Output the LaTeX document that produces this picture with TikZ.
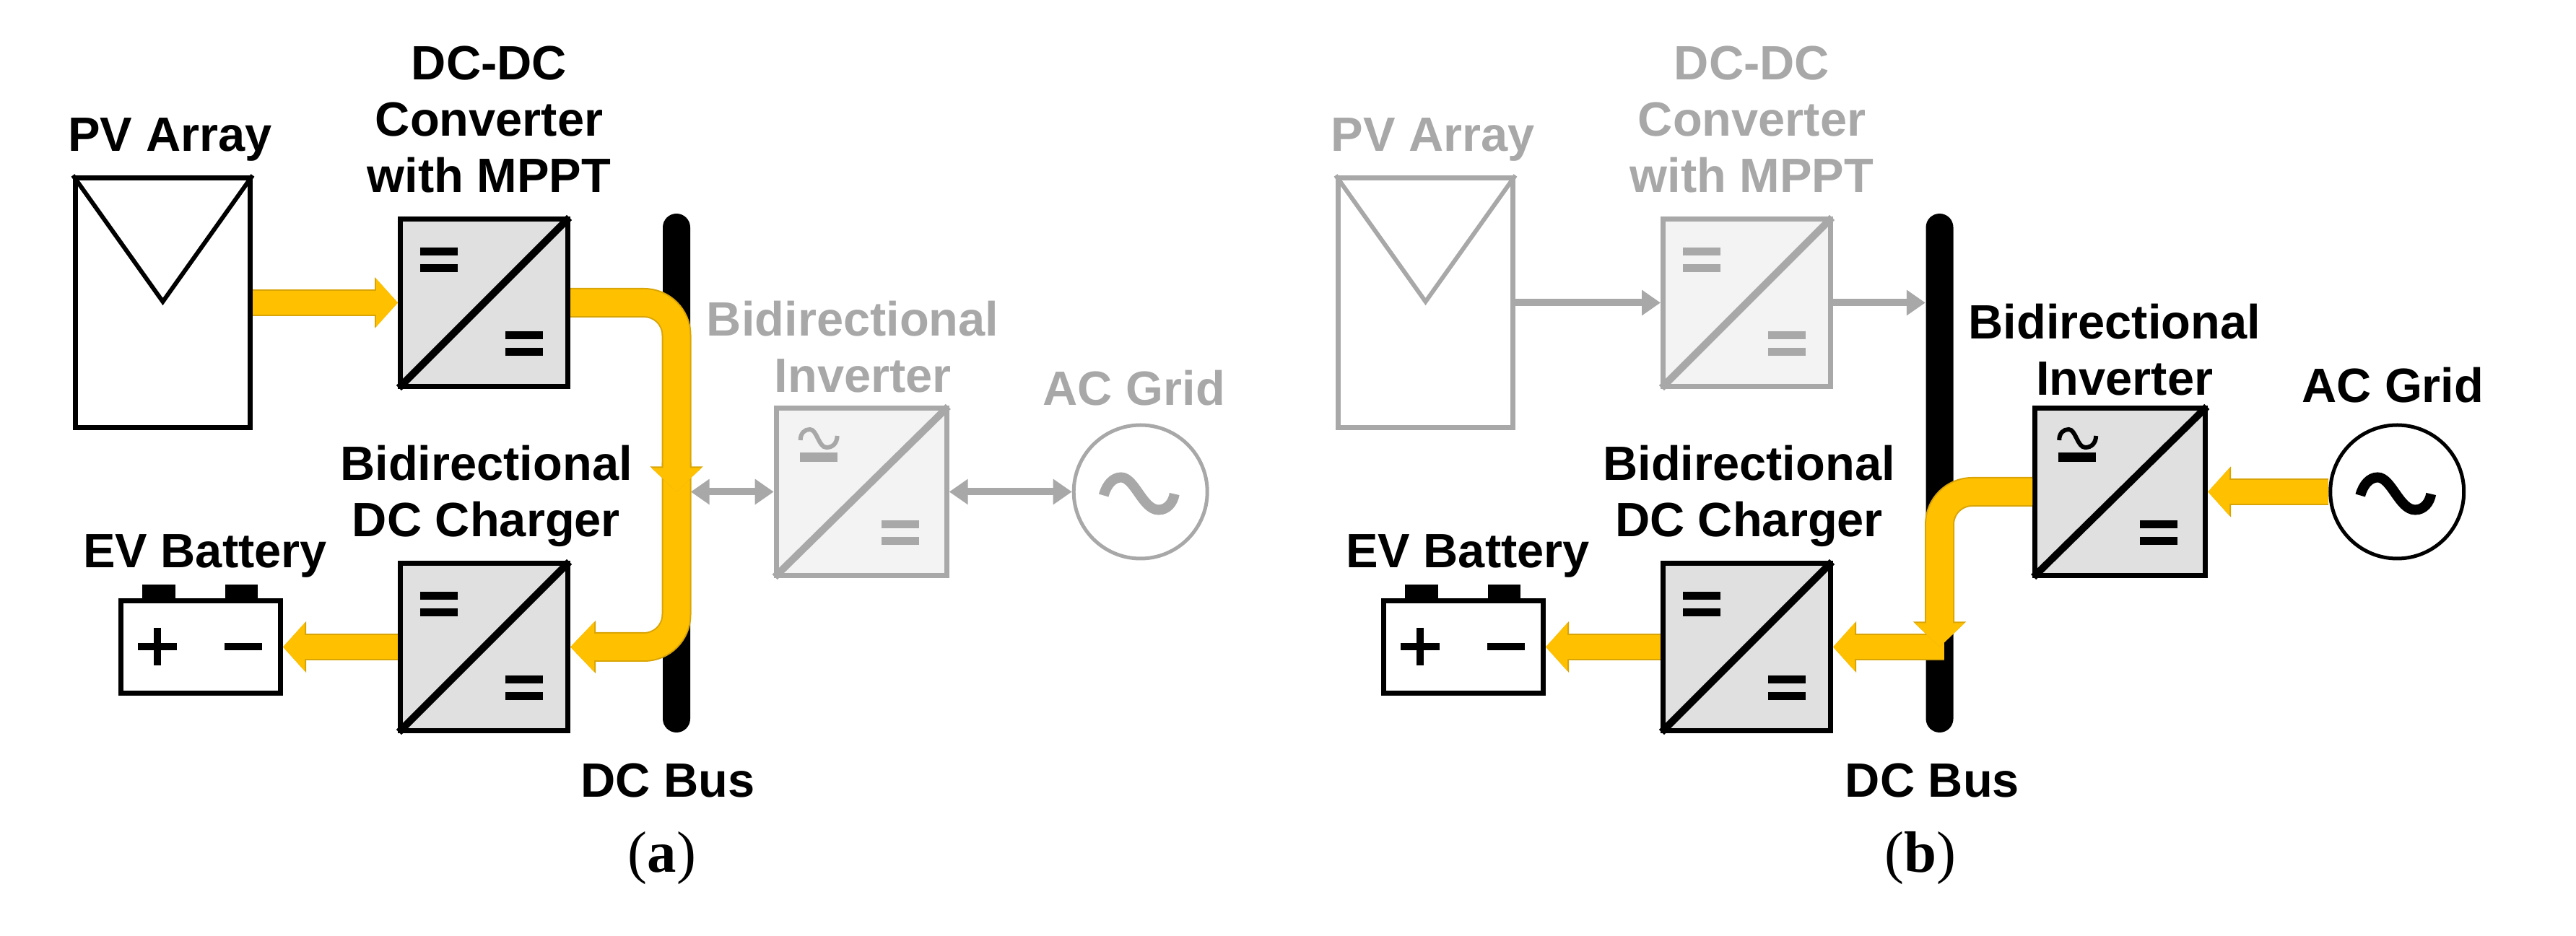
\documentclass[tikz,border=0pt]{standalone}
\usepackage{fontspec}
\usepackage{xcolor}
\setmainfont{Liberation Sans}
\newfontfamily\capfont{Liberation Serif}
\usetikzlibrary{arrows.meta,positioning,calc}
\definecolor{Amber}{HTML}{FFC000}
\definecolor{AmberEdge}{HTML}{D9A406}
\definecolor{Fade}{HTML}{A8A8A8}
\definecolor{BoxGray}{HTML}{E0E0E0}
\definecolor{BoxFade}{HTML}{F3F3F3}

\begin{document}
\begin{tikzpicture}[
  conv/.style={draw=black,fill=BoxGray,line width=.07cm,minimum width=2.32cm,minimum height=2.32cm,inner sep=0pt},
  convfade/.style={conv,draw=Fade,fill=BoxFade},
  panel/.style={draw=black,fill=white,line width=.07cm,minimum width=2.42cm,minimum height=3.46cm,inner sep=0pt},
  panelfade/.style={panel,draw=Fade},
  grid/.style={circle,draw=black,fill=white,line width=.05cm,minimum size=1.85cm,inner sep=0pt},
  gridfade/.style={grid,draw=Fade},
  cell/.style={draw=black,fill=white,line width=.07cm,minimum width=2.21cm,minimum height=1.28cm,inner sep=0pt},
  busbar/.style={fill=black,rounded corners=.19cm,minimum width=.38cm,minimum height=7.19cm,inner sep=0pt},
  lbl/.style={inner sep=0pt,align=center,text depth=0pt,font=\fontsize{19}{22.2}\selectfont\bfseries},
  lblfade/.style={lbl,text=Fade},
  caption/.style={inner sep=0pt,font=\fontsize{23}{27}\selectfont\capfont},
  flow/.style={draw=Amber,line width=.33cm,-{Triangle[length=.3cm,width=.65cm]},
    preaction={draw=AmberEdge,line width=.37cm,-{Triangle[length=.32cm,width=.69cm]}}},
  flowbend/.style={draw=Amber,line width=.37cm,rounded corners=.45cm,-{Triangle[length=.33cm,width=.67cm]},
    preaction={draw=AmberEdge,line width=.41cm,-{Triangle[length=.35cm,width=.71cm]}}},
  thin arrow/.style={draw=Fade,line width=.1cm,-{Triangle[length=.26cm,width=.34cm]}},
  both arrow/.style={draw=Fade,line width=.1cm,{Triangle[length=.26cm,width=.34cm]}-{Triangle[length=.26cm,width=.34cm]}}
]
\useasboundingbox (0,0) rectangle (35.68,12.96);
\node[panel] (pva) at (2.255,8.765) {};
\node[conv,right=2.01cm of pva] (dcdca) {};
\node[busbar] (busa) at (9.37,6.405) {};
\node[convfade,minimum width=2.36cm,right=1.15cm of busa,yshift=-.26cm] (inva) {};
\node[gridfade,right=1.7cm of inva] (aca) {};
\node[conv,below=2.38cm of dcdca] (chga) {};
\node[cell,left=1.59cm of chga] (cella) {};
\node[lbl,above=.33cm of pva,xshift=.1cm] (pvalbl) {PV Array};
\node[lbl,above=.33cm of dcdca,xshift=.07cm] (dcdcalbl) {DC-DC\\Converter\\with MPPT};
\node[lbl,above=.33cm of chga,xshift=.03cm] (chgalbl) {Bidirectional\\DC Charger};
\node[lbl,above=.42cm of cella,xshift=.06cm] (cellalbl) {EV Battery};
\node[lbl,below=.41cm of busa,xshift=-.12cm] (busalbl) {DC Bus};
\node[lblfade,above=.18cm of inva,xshift=-.12cm] (invalbl) {Bidirectional\\\hspace*{.28cm}Inverter};
\node[lblfade,above=.24cm of aca,xshift=-.09cm] (acalbl) {AC Grid};
\node[caption,below=.47cm of busalbl,xshift=-.08cm] (capa) {(\textbf{a})};

\node[panelfade] (pvb) at (19.745,8.765) {};
\node[convfade,right=2.01cm of pvb] (dcdcb) {};
\node[busbar] (busb) at (26.865,6.405) {};
\node[conv,minimum width=2.36cm,right=1.09cm of busb,yshift=-.26cm] (invb) {};
\node[grid,right=1.67cm of invb] (acb) {};
\node[conv,below=2.38cm of dcdcb] (chgb) {};
\node[cell,left=1.59cm of chgb] (cellb) {};
\node[lblfade,above=.33cm of pvb,xshift=.1cm] (pvblbl) {PV Array};
\node[lblfade,above=.33cm of dcdcb,xshift=.07cm] (dcdcblbl) {DC-DC\\Converter\\with MPPT};
\node[lbl,above=.33cm of chgb,xshift=.03cm] (chgblbl) {Bidirectional\\DC Charger};
\node[lbl,above=.42cm of cellb,xshift=.06cm] (cellblbl) {EV Battery};
\node[lbl,below=.41cm of busb,xshift=-.1cm] (busblbl) {DC Bus};
\node[lbl,above=.14cm of invb,xshift=-.08cm] (invblbl) {Bidirectional\\\hspace*{.28cm}Inverter};
\node[lbl,above=.28cm of acb,xshift=-.06cm] (acblbl) {AC Grid};
\node[caption,below=.47cm of busblbl,xshift=-.17cm] (capb) {(\textbf{b})};

\foreach \pv/\col in {pva/black,pvb/Fade}
  \draw[\col,line width=.06cm] (\pv.north west) -- ($(\pv.north)+(0,-1.75)$) -- (\pv.north east);
\foreach \bx/\col in {dcdca/black,chga/black,inva/Fade,dcdcb/Fade,chgb/black,invb/black}{
  \draw[\col,line width=.1cm,shorten <=.02cm,shorten >=.02cm] (\bx.south west) -- (\bx.north east);
  \draw[\col,line width=.11cm] ($(\bx.north west)+(1.49,-1.645)$) -- +(.52,0);
  \draw[\col,line width=.11cm] ($(\bx.north west)+(1.49,-1.875)$) -- +(.52,0);
}
\foreach \bx/\col in {dcdca/black,chga/black,dcdcb/Fade,chgb/black}{
  \draw[\col,line width=.11cm] ($(\bx.north west)+(.31,-.485)$) -- +(.52,0);
  \draw[\col,line width=.11cm] ($(\bx.north west)+(.31,-.715)$) -- +(.52,0);
}
\foreach \bx/\col in {inva/Fade,invb/black}{
  \begin{scope}[shift={(\bx.north west)}]
    \draw[\col,line width=.06cm] (.37,-.48) .. controls (.37,-.38) and (.43,-.33) .. (.5,-.33) .. controls (.6,-.33) and (.62,-.58) .. (.73,-.58) .. controls (.82,-.58) and (.875,-.52) .. (.88,-.42);
    \draw[\col,line width=.13cm] (.36,-.72) -- (.88,-.72);
  \end{scope}
}
\foreach \ac/\col in {aca/Fade,acb/black}{
  \begin{scope}[shift={(\ac.center)}]
    \draw[\col,line width=.14cm] (-.51,-.05) .. controls (-.47,.1) and (-.38,.2) .. (-.27,.2) .. controls (-.08,.2) and (.03,-.25) .. (.25,-.25) .. controls (.37,-.25) and (.45,-.15) .. (.47,-.03);
  \end{scope}
}
\foreach \bt in {cella,cellb}{
  \fill[black] ($(\bt.north west)+(.33,0)$) rectangle +(.46,.19);
  \fill[black] ($(\bt.north west)+(1.48,0)$) rectangle +(.45,.19);
  \draw[black,line width=.1cm] ($(\bt.north west)+(.27,-.67)$) -- +(.54,0);
  \draw[black,line width=.1cm] ($(\bt.north west)+(.54,-.41)$) -- +(0,-.52);
  \draw[black,line width=.1cm] ($(\bt.north west)+(1.47,-.67)$) -- +(.52,0);
}

\draw[both arrow] (inva.west -| busa.east) -- (inva.west);
\draw[both arrow] (inva.east) -- (aca.west);
\draw[flowbend] ([yshift=.4cm]inva.west -| busa) -- (chga.east -| busa) -- (chga.east);
\draw[flowbend] (dcdca.east) -- (dcdca.east -| busa) -- (inva.west -| busa);
\draw[flow] (pva.east) -- (dcdca.west);
\draw[flow] (chga.west) -- (cella.east);

\draw[thin arrow] (pvb.east) -- (dcdcb.west);
\draw[thin arrow] (dcdcb.east) -- (dcdcb.east -| busb.west);
\draw[flow] (acb.west) -- (invb.east);
\draw[flow] ([xshift=.06cm]chgb.east -| busb) -- (chgb.east);
\draw[flowbend] (invb.west) -- (invb.west -| busb) -- (chgb.east -| busb);
\draw[flow] (chgb.west) -- (cellb.east);
\end{tikzpicture}
\end{document}
